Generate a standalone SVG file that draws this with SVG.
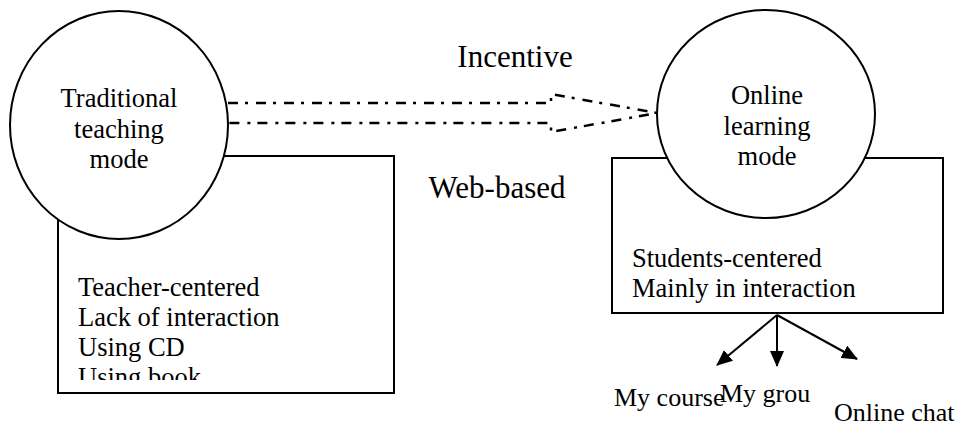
<svg xmlns="http://www.w3.org/2000/svg" width="961" height="428" viewBox="0 0 961 428">
<style>
text{font-family:"Liberation Serif","Times New Roman",serif;font-size:26.5px;fill:#000}
.big{font-size:31px}
.sm{font-size:26px}
.mid{text-anchor:middle}
.shape{fill:#fff;stroke:#000;stroke-width:2}
.dd{fill:none;stroke:#000;stroke-width:2.5;stroke-dasharray:10 7 3 8}
.ar{fill:none;stroke:#000;stroke-width:2;marker-end:url(#ah)}
</style>
<defs>
<marker id="ah" viewBox="0 0 16 14" refX="15" refY="7" markerWidth="16" markerHeight="14" markerUnits="userSpaceOnUse" orient="auto">
<path d="M0 0 L16 7 L0 14 Z" fill="#000"/>
</marker>
<clipPath id="clipL"><rect x="58" y="156" width="336" height="224"/></clipPath>
</defs>
<rect width="961" height="428" fill="#fff"/>
<g id="traditional-box">
<rect class="shape" x="58" y="156" width="336" height="237"/>
<g clip-path="url(#clipL)">
<text x="78" y="296">Teacher-centered</text>
<text x="78" y="326">Lack of interaction</text>
<text x="78" y="356">Using CD</text>
<text x="78" y="386">Using book</text>
</g>
</g>
<g id="traditional-mode">
<ellipse class="shape" cx="119" cy="125" rx="109" ry="114"/>
<text class="mid" x="119" y="107">Traditional</text>
<text class="mid" x="119" y="138">teaching</text>
<text class="mid" x="119" y="168">mode</text>
</g>
<g id="online-box">
<rect class="shape" x="612" y="158" width="331" height="155"/>
<text x="632" y="267">Students-centered</text>
<text x="632" y="297">Mainly in interaction</text>
</g>
<g id="online-mode">
<ellipse class="shape" cx="766" cy="114" rx="109" ry="104"/>
<text class="mid" x="767" y="104">Online</text>
<text class="mid" x="767" y="135">learning</text>
<text class="mid" x="767" y="165">mode</text>
</g>
<g id="connectors">
<path class="dd" d="M228 103 L551 103 L551 94 L657 113 L551 132 L551 123 L228 123"/>
<line class="ar" x1="777" y1="315" x2="717" y2="365"/>
<line class="ar" x1="777" y1="315" x2="777" y2="366"/>
<line class="ar" x1="777" y1="315" x2="857" y2="359"/>
</g>
<g id="labels">
<text class="big mid" x="515" y="67">Incentive</text>
<text class="big mid" x="497" y="198">Web-based</text>
<text class="sm" x="614" y="406">My course</text>
<text class="sm" x="720" y="402">My grou</text>
<text class="sm" x="834" y="421">Online chat</text>
</g>
</svg>
